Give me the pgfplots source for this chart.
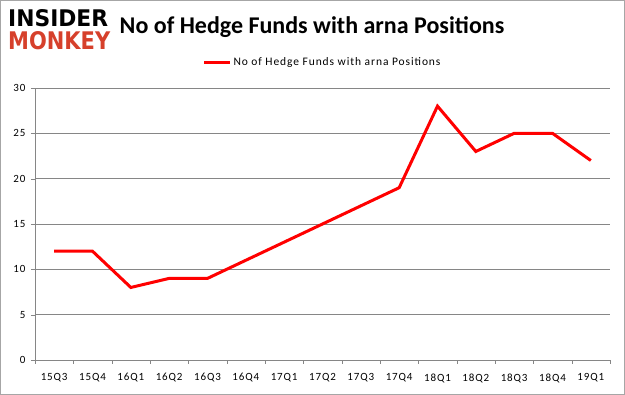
\documentclass[border=0pt]{standalone}
\usepackage{pgfplots}
\pgfplotsset{compat=1.18}
\usepackage{graphicx}
\usepackage{fontspec}
\setmainfont{Carlito}
\newfontfamily\wideCarlito[LetterSpace=8]{Carlito}
\newfontfamily\logofont{DejaVu Sans}
\definecolor{gridgray}{HTML}{868686}
\definecolor{logored}{HTML}{D6402B}
\begin{document}
\begin{tikzpicture}[x=1pt,y=1pt]
\draw[gray!70, line width=1pt] (0.5,0.5) rectangle (624.5,394.5);
\node[anchor=north west, inner sep=0] at (8,386) {\resizebox{100pt}{17pt}{\logofont\bfseries INSIDER}};
\node[anchor=north west, inner sep=0] at (8,364) {\resizebox{102pt}{18pt}{\logofont\bfseries\color{logored}MONKEY}};
\node[font=\fontsize{24}{28}\selectfont\bfseries] at (312,368) {No of Hedge Funds with arna Positions};
\begin{axis}[
  at={(35pt,35pt)}, anchor=south west,
  scale only axis, width=575pt, height=272pt,
  xmin=-0.5, xmax=14.5, ymin=0, ymax=30,
  axis x line=bottom, axis y line=left,
  axis line style={gridgray, -},
  xtick={0,...,14},
  xticklabels={15Q3,15Q4,16Q1,16Q2,16Q3,16Q4,17Q1,17Q2,17Q3,17Q4,18Q1,18Q2,18Q3,18Q4,19Q1},
  minor xtick={-0.5,0.5,...,14.5},
  major x tick style={draw=none},
  minor x tick style={gridgray},
  minor tick length=4pt,
  ytick={0,5,...,30},
  y tick style={gridgray},
  major tick length=4pt,
  tick align=outside,
  ymajorgrids, grid style={gridgray, line width=0.8pt},
  tick label style={font=\wideCarlito\fontsize{11}{13}\selectfont},
  xticklabel style={yshift=-6pt},
  yticklabel style={xshift=-2pt},
  /pgf/number format/assume math mode=true,
  legend style={at={(0.5,1.095)}, anchor=center, draw=none, font=\wideCarlito\fontsize{11.5}{13}\selectfont, inner sep=1pt},
  legend cell align=left,
  legend image code/.code={\draw[#1, line width=3pt] (0pt,0pt) -- (26pt,0pt);},
]
\addplot[color=red, line width=3pt, no marks] coordinates {
(0,12) (1,12) (2,8) (3,9) (4,9) (5,11) (6,13) (7,15) (8,17) (9,19) (10,28) (11,23) (12,25) (13,25) (14,22)};
\addlegendentry{No of Hedge Funds with arna Positions}
\end{axis}
\end{tikzpicture}
\end{document}
